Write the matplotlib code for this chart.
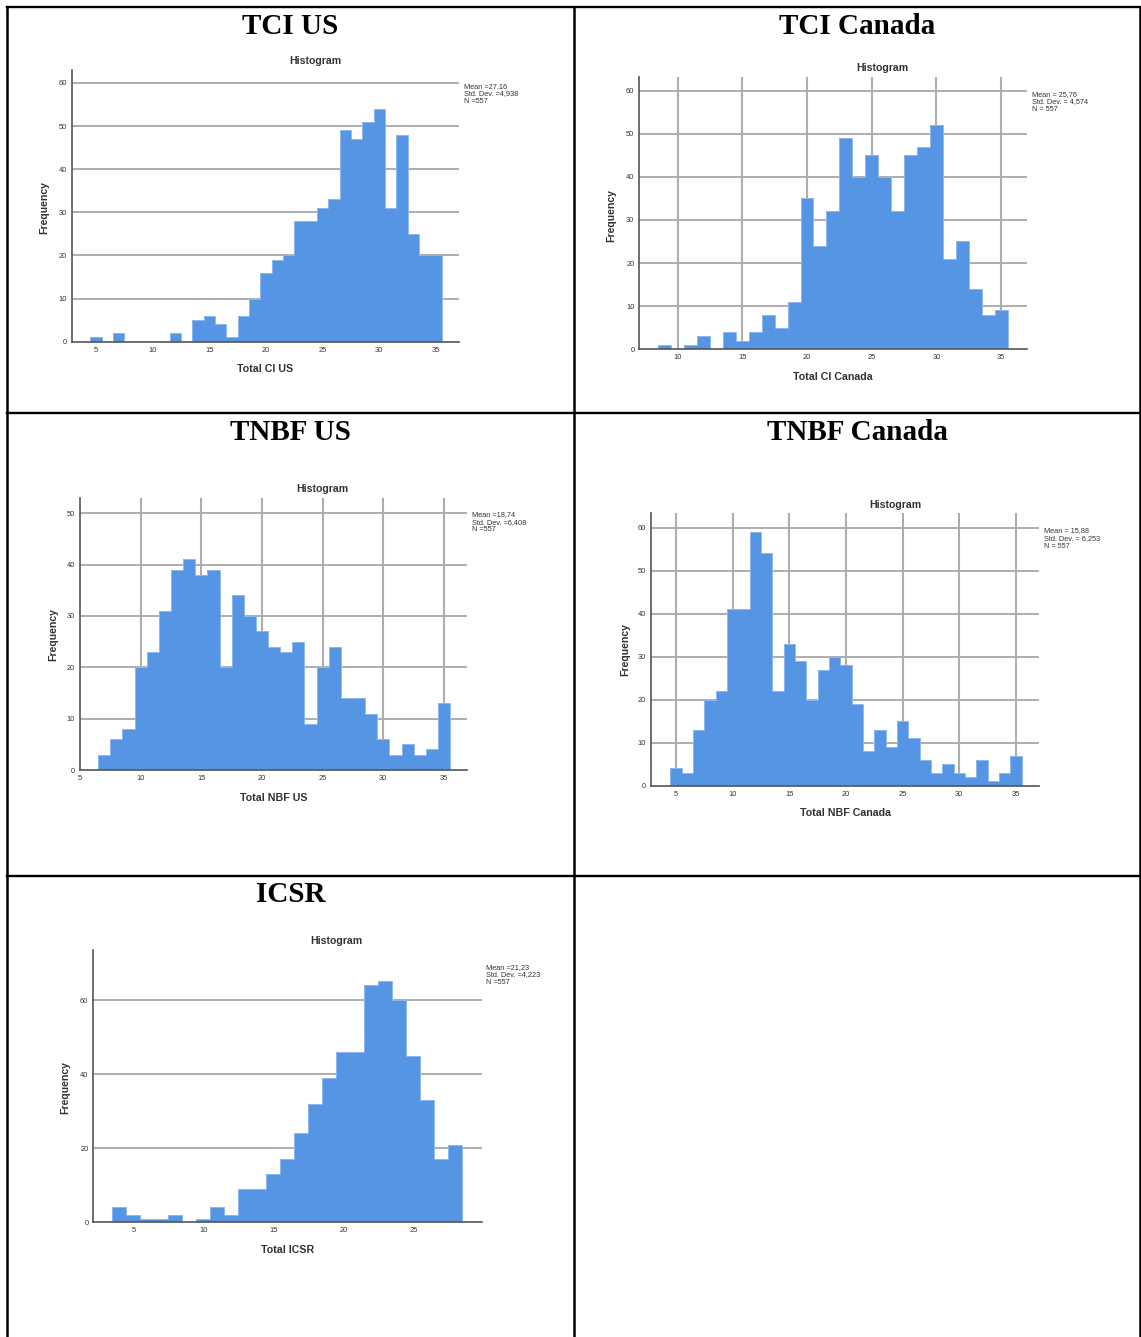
import numpy as np
import matplotlib
matplotlib.use("Agg")
import matplotlib.pyplot as plt

W, H = 1141, 1337
DPI = 100

# ---- data: bin centres (integer scores) and frequencies -------------------
tci_us_bins = list(range(5, 36))
tci_us_counts = [1, 0, 2, 0, 0, 0, 0, 2, 0, 5, 6, 4, 1, 6, 10, 16, 19, 20,
                 28, 28, 31, 33, 49, 47, 51, 54, 31, 48, 25, 20, 20]

tci_ca_bins = list(range(9, 36))
tci_ca_counts = [1, 0, 1, 3, 0, 4, 2, 4, 8, 5, 11, 35, 24, 32, 49, 40, 45,
                 40, 32, 45, 47, 52, 21, 25, 14, 8, 9]

nbf_us_bins = list(range(7, 36))
nbf_us_counts = [3, 6, 8, 20, 23, 31, 39, 41, 38, 39, 20, 34, 30, 27, 24, 23,
                 25, 9, 20, 24, 14, 14, 11, 6, 3, 5, 3, 4, 13]

nbf_ca_bins = list(range(5, 36))
nbf_ca_counts = [4, 3, 13, 20, 22, 41, 41, 59, 54, 22, 33, 29, 20, 27, 30, 28,
                 19, 8, 13, 9, 15, 11, 6, 3, 5, 3, 2, 6, 1, 3, 7]

icsr_bins = list(range(4, 29))
icsr_counts = [4, 2, 1, 1, 2, 0, 1, 4, 2, 9, 9, 13, 17, 24, 32, 39, 46, 46,
               64, 65, 60, 45, 33, 17, 21]

headers = ["TCI US", "TCI Canada", "TNBF US", "TNBF Canada", "ICSR"]
x_labels = ["Total CI US", "Total CI Canada", "Total NBF US",
            "Total NBF Canada", "Total ICSR"]
stats = [
    ["Mean =27,16", "Std. Dev. =4,938", "N =557"],
    ["Mean = 25,76", "Std. Dev. = 4,574", "N = 557"],
    ["Mean =18,74", "Std. Dev. =6,408", "N =557"],
    ["Mean = 15,88", "Std. Dev. = 6,253", "N = 557"],
    ["Mean =21,23", "Std. Dev. =4,223", "N =557"],
]

BAR = "#5595e4"
EDGE = "#8db8f0"
GRID = "#adadad"
SPINE = "#555555"
TXT = "#333333"
SANS = "Liberation Sans"
SERIF = "Liberation Serif"

fig = plt.figure(figsize=(W / DPI, H / DPI), dpi=DPI)


def fx(x):
    return x / W


def fy(y):
    return 1 - y / H


# ---- table frame ----------------------------------------------------------
def hline(y, x0, x1):
    fig.add_artist(plt.Line2D([fx(x0), fx(x1)], [fy(y), fy(y)], color="black",
                              lw=1.7, solid_capstyle="projecting"))


def vline(x, y0, y1):
    fig.add_artist(plt.Line2D([fx(x), fx(x)], [fy(y0), fy(y1)], color="black",
                              lw=1.8, solid_capstyle="projecting"))


hline(7, 7, 1140)
hline(413, 7, 1140)
hline(875.5, 7, 1140)
vline(7, 7, 1337)
vline(574, 7, 1337)
vline(1139.5, 7, 1337)

header_pos = [(290.5, 26), (857, 26), (290.5, 432), (857, 432), (290.5, 895)]
for (hx, hy), txt in zip(header_pos, headers):
    fig.text(fx(hx), fy(hy), txt, ha="center", va="center", fontsize=21,
             fontweight="bold", family=SERIF, color="black")

# ---- histogram panels -----------------------------------------------------
panels = [
    dict(bins=tci_us_bins, counts=tci_us_counts, box=(71.7, 70, 459.3, 341.7),
         xlim=(2.85, 37.06), ylim=(0, 63), yticks=[0, 10, 20, 30, 40, 50, 60],
         xticks=[5, 10, 15, 20, 25, 30, 35], vgrid=False,
         title=(315, 61), stat=(464, 83), xl=(265.5, 369), yl=(44, 207)),
    dict(bins=tci_ca_bins, counts=tci_ca_counts, box=(639.3, 76.7, 1026.7, 349.3),
         xlim=(7.04, 36.98), ylim=(0, 63.2), yticks=[0, 10, 20, 30, 40, 50, 60],
         xticks=[10, 15, 20, 25, 30, 35], vgrid=True,
         title=(882.7, 68.3), stat=(1031.7, 91), xl=(833, 377), yl=(611.7, 215)),
    dict(bins=nbf_us_bins, counts=nbf_us_counts, box=(80, 498.3, 466.7, 770),
         xlim=(5.0, 36.87), ylim=(0, 52.9), yticks=[0, 10, 20, 30, 40, 50],
         xticks=[5, 10, 15, 20, 25, 30, 35], vgrid=True,
         title=(322.7, 489.3), stat=(471.7, 511.5), xl=(273.3, 797.7), yl=(53.3, 635)),
    dict(bins=nbf_ca_bins, counts=nbf_ca_counts, box=(651, 513.3, 1039.3, 785.7),
         xlim=(2.8, 37.06), ylim=(0, 63.3), yticks=[0, 10, 20, 30, 40, 50, 60],
         xticks=[5, 10, 15, 20, 25, 30, 35], vgrid=True,
         title=(895, 505), stat=(1044, 527.5), xl=(845, 813.3), yl=(625, 650)),
    dict(bins=icsr_bins, counts=icsr_counts, box=(93.3, 950, 481.7, 1222.3),
         xlim=(2.14, 29.88), ylim=(0, 73.5), yticks=[0, 20, 40, 60],
         xticks=[5, 10, 15, 20, 25], vgrid=False,
         title=(336.7, 941), stat=(486, 964), xl=(287.5, 1250), yl=(65, 1087)),
]

for p, xlab, st in zip(panels, x_labels, stats):
    l, t, r, b = p["box"]
    ax = fig.add_axes([fx(l), fy(b), (r - l) / W, (b - t) / H])
    centres = np.array(p["bins"], dtype=float)
    counts = np.array(p["counts"], dtype=float)

    ax.bar(centres, counts, width=1.0, color=BAR, linewidth=0, zorder=3)
    edges = np.append(centres - 0.5, centres[-1] + 0.5)
    ax.stairs(counts, edges, color=EDGE, lw=0.7, zorder=4)

    ax.set_xlim(*p["xlim"])
    ax.set_ylim(*p["ylim"])
    ax.set_xticks(p["xticks"])
    ax.set_yticks(p["yticks"])

    for yv in p["yticks"][1:]:
        ax.axhline(yv, color=GRID, lw=1.4, zorder=1)
    if p["vgrid"]:
        for xv in p["xticks"]:
            if xv > p["xlim"][0] + 0.1:
                ax.axvline(xv, color=GRID, lw=1.5, zorder=1)

    for s in ("top", "right"):
        ax.spines[s].set_visible(False)
    for s in ("left", "bottom"):
        ax.spines[s].set_color(SPINE)
        ax.spines[s].set_linewidth(1.2)
        ax.spines[s].set_zorder(5)

    ax.tick_params(length=0, labelsize=5.4, labelcolor=TXT, pad=3.5)
    for lab in ax.get_xticklabels() + ax.get_yticklabels():
        lab.set_family(SANS)
    ax.patch.set_alpha(0)

    tx, ty = p["title"]
    fig.text(fx(tx), fy(ty), "Histogram", ha="center", va="center",
             fontsize=7.6, fontweight="bold", family=SANS, color=TXT)
    xx, xy = p["xl"]
    fig.text(fx(xx), fy(xy), xlab, ha="center", va="center",
             fontsize=7.7, fontweight="bold", family=SANS, color=TXT)
    yx, yy = p["yl"]
    fig.text(fx(yx), fy(yy), "Frequency", ha="center", va="center",
             rotation=90, fontsize=7.6, fontweight="bold", family=SANS, color=TXT)
    sx, sy = p["stat"]
    fig.text(fx(sx), fy(sy), "\n".join(st), ha="left", va="top",
             fontsize=5.3, family=SANS, color=TXT, linespacing=1.1)

fig.savefig("out.png", dpi=DPI, facecolor="white")
